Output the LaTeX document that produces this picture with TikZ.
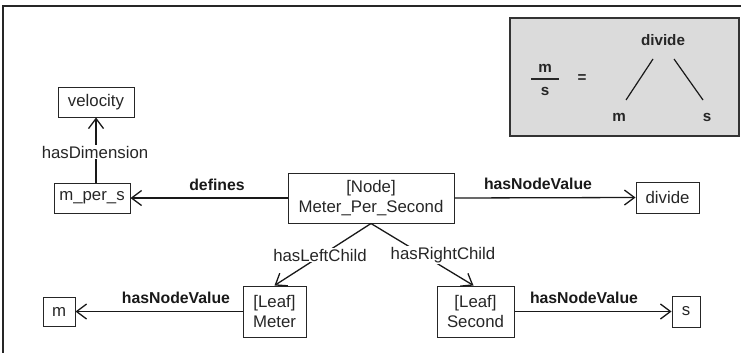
\documentclass[tikz,border=0pt]{standalone}
\usepackage{fontspec}
\setmainfont{Liberation Sans}
\usetikzlibrary{arrows.meta}
\begin{document}
\begin{tikzpicture}[x=1pt,y=-1pt,
  box/.style={draw=black!85,line width=1pt,inner sep=0pt,align=center,
    font=\fontsize{16.8}{19.5}\selectfont,text=black!85},
  lbl/.style={inner sep=1pt,font=\fontsize{16.8}{19.5}\selectfont,text=black!85},
  blbl/.style={inner sep=1pt,font=\fontsize{15.8}{19}\selectfont\bfseries,text=black!90},
  gtxt/.style={inner sep=0pt,font=\fontsize{15.2}{18}\selectfont\bfseries,text=black!85},
  conn/.style={line width=1.3pt,draw=black!90,-{Straight Barb[length=10pt,width=15pt,line width=1.3pt]}},
  plain/.style={line width=1.2pt,draw=black!90}]
\useasboundingbox (0,0) rectangle (741,353);
% frame
\draw[line width=1.4pt,black!85] (3,353) -- (3,6) -- (741,6);
% gray box
\node[draw=black!80,line width=1.4pt,fill=black!14,minimum width=229pt,minimum height=118pt,inner sep=0pt] (gbox) at (624.5,77) {};
\node[gtxt] (gdiv) at (663,40) {divide};
\node[gtxt] (gm) at (545,68) {m};
\node[gtxt] (gs) at (545,91) {s};
\draw[line width=1.3pt,black!85] (531,79) -- (559,79);
\node[gtxt] (geq) at (582,79) {=};
\node[gtxt] (gm2) at (619,117) {m};
\node[gtxt] (gs2) at (707,117) {s};
\coordinate (ga1) at (653,59); \coordinate (ga2) at (626,100);
\coordinate (gb1) at (674,59); \coordinate (gb2) at (703,100);
\draw[plain] (ga1) -- (ga2);
\draw[plain] (gb1) -- (gb2);
% nodes
\node[box,minimum width=76pt,minimum height=30pt] (vel) at (96,102) {velocity};
\node[box,minimum width=76pt,minimum height=30pt] (mps) at (92,198) {m\_per\_s};
\node[box,minimum width=166pt,minimum height=50pt] (main) at (371,198) {[Node]\\Meter\_Per\_Second};
\node[box,minimum width=63pt,minimum height=31pt] (div) at (667.5,197.5) {divide};
\node[box,minimum width=63pt,minimum height=51pt] (lm) at (274.5,311.5) {[Leaf]\\Meter};
\node[box,minimum width=32pt,minimum height=29pt] (m) at (59,311.5) {m};
\node[box,minimum width=77pt,minimum height=51pt] (ls) at (475.5,311.5) {[Leaf]\\Second};
\node[box,minimum width=28pt,minimum height=31pt] (s) at (686,311.5) {s};
% connectors
\draw[conn] (mps.north -| vel.south) -- (vel.south);
\node[lbl,fill=white] (hd) at (95,152) {hasDimension};
\draw[conn] (main.west) -- (mps.east);
\node[blbl] (ldef) at (217,185) {defines};
\draw[conn] (main.east) -- (div.west);
\node[blbl] (lnv1) at (538,184) {hasNodeValue};
\draw[conn] (main.south) -- (lm.north);
\node[lbl,fill=white] (llc) at (320,255) {hasLeftChild};
\draw[conn] (main.south) -- ([xshift=-2pt]ls.north);
\node[lbl,fill=white] (lrc) at (443,255) {hasRightChild};
\draw[conn] (lm.west) -- (m.east);
\node[blbl] (lnv2) at (176,298) {hasNodeValue};
\draw[conn] (ls.east) -- (s.west);
\node[blbl] (lnv3) at (584,298) {hasNodeValue};
\end{tikzpicture}
\end{document}
